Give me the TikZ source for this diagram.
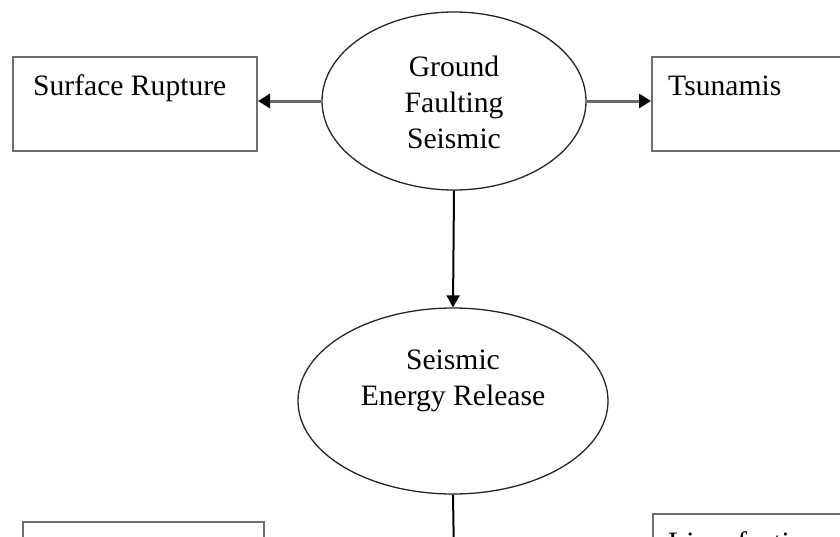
\documentclass[tikz,border=0pt]{standalone}
\usepackage{fontspec}
\setmainfont{Liberation Serif}
\usetikzlibrary{shapes.geometric,arrows.meta}
\definecolor{boxgray}{HTML}{6E6E6E}
\definecolor{arrgray}{HTML}{6A6A6A}
\tikzset{
  box/.style={draw=boxgray,line width=2pt,fill=white,rectangle,minimum width=244pt,minimum height=94pt,inner sep=0pt,anchor=north west},
  oval/.style={draw=black!85,line width=1.3pt,ellipse,inner sep=0pt},
  lbl/.style={font=\fontsize{29.6}{35}\selectfont,inner sep=0pt,anchor=base west},
  clbl/.style={font=\fontsize{29.6}{36}\selectfont,inner sep=0pt,align=center},
  harrow/.style={draw=arrgray,line width=3pt,-{Triangle[length=12pt,width=14pt,fill=black,color=black]}},
  varrow/.style={draw=black,line width=2pt,-{Triangle[length=12pt,width=13pt]}},
}
\begin{document}
\begin{tikzpicture}[x=1pt,y=-1pt]
\useasboundingbox (0,0) rectangle (840,536);
\clip (0,0) rectangle (840,536);
\fill[white] (0,0) rectangle (840,536);
% boxes
\node[box] (sr) at (12,56) {};
\node[lbl] (srt) at (33,95) {Surface Rupture};
\node[box] (ts) at (651,56) {};
\node[lbl] (tst) at (668,95) {Tsunamis};
\node[box,minimum width=241pt] (bl) at (22,521) {};
\node[box] (lq) at (652,513) {};
\node[lbl] (lqt) at (668,552) {Liquefaction};
% ellipses
\node[oval,minimum width=264pt,minimum height=178pt] (gf) at (454,101) {};
\node[clbl] (gft) at (454,102) {Ground\\Faulting\\Seismic};
\node[oval,minimum width=310pt,minimum height=186pt] (se) at (453,401) {};
\node[clbl] (set) at (453,381) {Seismic\\Energy Release};
\coordinate (bot) at (454,560);
% connectors
\draw[harrow] (gf.west) -- (sr.east |- gf.west);
\draw[harrow] (gf.east) -- (ts.west |- gf.east);
\draw[varrow] (gf.south) -- (se.north);
\draw[black,line width=2pt] (se.south) -- (bot);
\end{tikzpicture}
\end{document}
